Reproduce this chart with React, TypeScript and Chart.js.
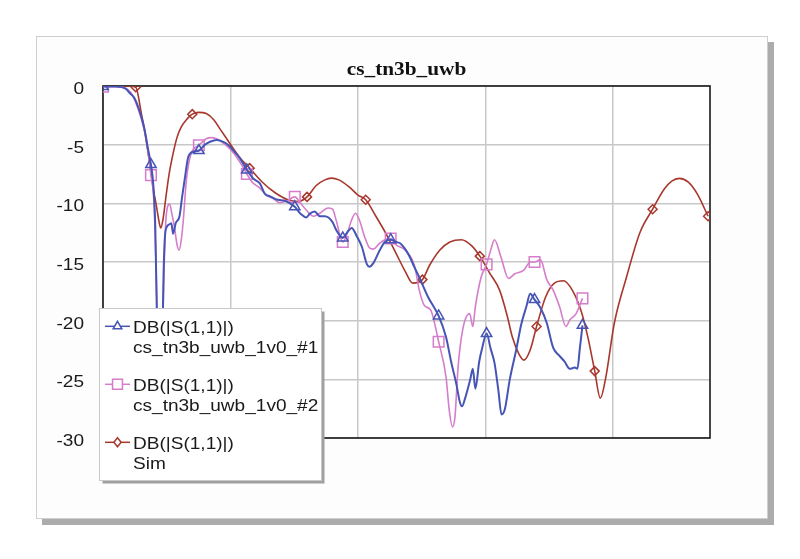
import React, { useEffect, useRef } from 'react';
import { Chart, registerables } from 'chart.js';

Chart.register(...registerables);

const chartTitle = 'cs_tn3b_uwb';
const legendTop = 'DB(|S(1,1)|)';
const seriesNames = ['cs_tn3b_uwb_1v0_#1', 'cs_tn3b_uwb_1v0_#2', 'Sim'];

// Measured #1
const m1Freq = [0, 0.1, 0.18, 0.21, 0.245, 0.275, 0.3, 0.327, 0.35, 0.376, 0.395, 0.41, 0.42, 0.43, 0.44, 0.455, 0.465, 0.475, 0.484, 0.5, 0.52, 0.536, 0.55, 0.57, 0.6, 0.62, 0.64, 0.67, 0.71, 0.752, 0.8, 0.84, 0.89, 0.93, 0.98, 1.03, 1.07, 1.128, 1.18, 1.23, 1.27, 1.31, 1.37, 1.43, 1.504, 1.55, 1.595, 1.62, 1.66, 1.7, 1.74, 1.8, 1.83, 1.88, 1.92, 1.95, 1.99, 2.03, 2.07, 2.09, 2.12, 2.17, 2.21, 2.256, 2.3, 2.33, 2.37, 2.405, 2.44, 2.48, 2.55, 2.632, 2.69, 2.73, 2.77, 2.8, 2.815, 2.84, 2.88, 2.9, 2.92, 2.95, 2.97, 3.008, 3.04, 3.07, 3.1, 3.125, 3.15, 3.19, 3.24, 3.28, 3.32, 3.35, 3.384, 3.43, 3.48, 3.53, 3.58, 3.62, 3.66, 3.7, 3.72, 3.74, 3.76];
const m1Db = [-0.05, -0.05, -0.25, -0.6, -1.0, -1.76, -2.6, -3.75, -5.2, -6.7, -8.5, -12, -18, -24, -29, -29, -22, -16, -13.1, -12.0, -11.8, -11.7, -12.6, -11.7, -11.1, -9.5, -8.0, -6.0, -5.6, -5.5, -5.0, -4.75, -4.6, -4.7, -5.0, -5.6, -6.1, -7.16, -7.9, -8.3, -9.2, -9.4, -9.7, -9.8, -10.3, -10.9, -11.2, -10.9, -10.7, -11.1, -11.1, -11.6, -12.3, -12.95, -12.4, -12.1, -12.8, -13.7, -15.2, -15.4, -15.1, -14.0, -13.3, -13.1, -13.3, -13.4, -13.9, -14.55, -15.4, -16.3, -18.0, -19.6, -21.4, -23.5, -25.35, -27.0, -27.3, -26.6, -25.0, -24.1, -25.8, -23.5, -22.5, -21.1, -22.4, -23.6, -25.9, -28.0, -27.6, -25.0, -22.5, -20.3, -18.8, -17.7, -18.2, -18.9, -20.2, -22.3, -23.0, -23.5, -24.1, -24.0, -24.1, -22.3, -20.4];
const m1Marks = [0, 0.376, 0.752, 1.128, 1.504, 1.88, 2.256, 2.632, 3.008, 3.384, 3.76];

// Measured #2
const m2Freq = [0, 0.1, 0.18, 0.22, 0.26, 0.3, 0.34, 0.376, 0.4, 0.415, 0.43, 0.445, 0.46, 0.47, 0.485, 0.497, 0.523, 0.54, 0.56, 0.58, 0.597, 0.615, 0.63, 0.654, 0.69, 0.752, 0.81, 0.85, 0.89, 0.93, 0.98, 1.03, 1.08, 1.128, 1.17, 1.23, 1.28, 1.335, 1.385, 1.44, 1.504, 1.55, 1.58, 1.65, 1.7, 1.765, 1.8, 1.83, 1.88, 1.92, 1.95, 1.98, 2.01, 2.05, 2.09, 2.12, 2.17, 2.21, 2.256, 2.3, 2.37, 2.445, 2.48, 2.52, 2.57, 2.632, 2.69, 2.715, 2.74, 2.76, 2.785, 2.82, 2.875, 2.9, 2.92, 2.965, 3.008, 3.04, 3.07, 3.12, 3.18, 3.23, 3.3, 3.35, 3.384, 3.43, 3.48, 3.53, 3.58, 3.63, 3.66, 3.71, 3.76];
const m2Db = [-0.05, -0.05, -0.2, -0.6, -1.5, -2.8, -4.6, -7.6, -10, -15, -22, -28, -28, -20, -13.5, -10.9, -10.06, -10.9, -12.0, -13.5, -14.0, -13.0, -11.4, -8.0, -5.8, -5.05, -4.5, -4.4, -4.5, -4.75, -5.2, -5.8, -6.6, -7.5, -8.2, -8.7, -9.3, -9.6, -9.95, -9.8, -9.45, -10.0, -10.4, -11.1, -10.85, -10.4, -10.5, -11.5, -13.3, -12.4, -11.4, -10.85, -11.4, -12.8, -13.8, -13.9, -13.4, -13.1, -13.0, -13.55, -14.0, -15.4, -17.4, -18.7, -19.1, -21.8, -24.8, -27.6, -29.05, -28.2, -23.9, -20.8, -19.4, -20.5, -18.8, -16.3, -15.2, -14.0, -13.1, -14.55, -16.4, -16.0, -15.7, -15.0, -15.0, -14.8, -16.5, -17.4, -18.8, -20.5, -19.95, -19.4, -18.1];
const m2Marks = [0, 0.376, 0.752, 1.128, 1.504, 1.88, 2.256, 2.632, 3.008, 3.384, 3.76];

// Simulation
const simFreq = [0, 0.12, 0.2, 0.257, 0.3, 0.337, 0.366, 0.395, 0.42, 0.44, 0.453, 0.47, 0.497, 0.52, 0.55, 0.58, 0.615, 0.66, 0.7, 0.75, 0.81, 0.87, 0.92, 0.97, 1.02, 1.08, 1.15, 1.25, 1.35, 1.45, 1.53, 1.6, 1.67, 1.74, 1.79, 1.85, 1.93, 2.0, 2.06, 2.14, 2.22, 2.3, 2.37, 2.43, 2.505, 2.56, 2.64, 2.72, 2.81, 2.89, 2.955, 3.03, 3.11, 3.17, 3.21, 3.26, 3.3, 3.35, 3.4, 3.47, 3.54, 3.61, 3.68, 3.75, 3.8, 3.856, 3.9, 3.94, 4.01, 4.105, 4.21, 4.31, 4.4, 4.46, 4.52, 4.59, 4.66, 4.745];
const simDb = [0, 0, 0, -0.1, -2.3, -4.5, -6.6, -8.8, -10.3, -11.6, -12.1, -11.4, -9.15, -7.4, -5.74, -4.4, -3.47, -2.8, -2.4, -2.25, -2.35, -2.9, -3.7, -4.5, -5.3, -6.2, -7.0, -8.2, -9.1, -9.7, -9.85, -9.45, -8.5, -8.0, -7.85, -8.0, -8.6, -9.3, -9.7, -11.1, -12.6, -14.3, -15.8, -16.8, -16.5, -15.3, -14.0, -13.3, -13.1, -13.6, -14.5, -15.9, -17.4, -19.6, -21.4, -22.8, -23.36, -22.5, -20.5, -18.0, -16.8, -16.6, -17.4, -19.2, -21.3, -24.3, -26.6, -25.0, -20.2, -16.3, -12.5, -10.5, -8.8, -8.1, -7.87, -8.2, -9.2, -11.1];
const simMarks = [0.257, 0.7, 1.15, 1.6, 2.06, 2.505, 2.955, 3.4, 3.856, 4.31, 4.745];

const colors = ['#4655b5', '#d57dca', '#a8372d'];
const styles = ['triangle', 'rect', 'rectRot'];
const SX = 1.12;

function drawStretched(ctx: CanvasRenderingContext2D, text: string, x: number, y: number, align: string, font: string, color: string) {
  ctx.save();
  ctx.font = font;
  ctx.fillStyle = color;
  ctx.textBaseline = 'alphabetic';
  ctx.textAlign = 'left';
  const w = ctx.measureText(text).width * SX;
  const x0 = align === 'right' ? x - w : align === 'center' ? x - w / 2 : x;
  ctx.translate(x0, y);
  ctx.scale(SX, 1);
  ctx.fillText(text, 0, 0);
  ctx.restore();
}

function drawMarker(ctx: CanvasRenderingContext2D, style: string, x: number, y: number, r: number) {
  ctx.beginPath();
  if (style === 'triangle') {
    ctx.moveTo(x, y - r);
    ctx.lineTo(x + r * 0.866, y + r * 0.5);
    ctx.lineTo(x - r * 0.866, y + r * 0.5);
    ctx.closePath();
  } else if (style === 'rect') {
    const s = r * 0.707;
    ctx.rect(x - s, y - s, 2 * s, 2 * s);
  } else {
    ctx.moveTo(x, y - r);
    ctx.lineTo(x + r * 0.8, y);
    ctx.lineTo(x, y + r);
    ctx.lineTo(x - r * 0.8, y);
    ctx.closePath();
  }
  ctx.fillStyle = '#ffffff';
  ctx.fill();
  ctx.stroke();
}

const decorPlugin = {
  id: 'decor',
  beforeDraw(chart: any) {
    const ctx = chart.ctx;
    ctx.save();
    ctx.fillStyle = '#ffffff';
    ctx.fillRect(0, 0, chart.width, chart.height);
    ctx.fillStyle = '#acacac';
    ctx.fillRect(42, 42, 732, 483);
    ctx.fillStyle = '#fdfdfd';
    ctx.fillRect(36, 36, 732, 483);
    ctx.strokeStyle = '#cfcfcf';
    ctx.lineWidth = 1;
    ctx.strokeRect(36.5, 36.5, 731, 482);
    const a = chart.chartArea;
    ctx.fillStyle = '#ffffff';
    ctx.fillRect(a.left, a.top, a.right - a.left, a.bottom - a.top);
    ctx.restore();
  },
  beforeDatasetsDraw(chart: any) {
    const ctx = chart.ctx;
    const a = chart.chartArea;
    ctx.save();
    ctx.strokeStyle = '#1a1a1a';
    ctx.lineWidth = 1.6;
    ctx.strokeRect(a.left, a.top, a.right - a.left, a.bottom - a.top);
    ctx.restore();
  },
  afterDraw(chart: any) {
    const ctx = chart.ctx;
    const a = chart.chartArea;
    const ys = chart.scales.y;
    ys.ticks.forEach((t: any) => {
      const py = ys.getPixelForValue(t.value);
      drawStretched(ctx, String(t.label), a.left - 19, py + 8, 'right', '17px "Liberation Sans", Arial, sans-serif', '#1a1a1a');
    });
    drawStretched(ctx, chartTitle, (a.left + a.right) / 2, 75, 'center', 'bold 19px "Liberation Serif", "Times New Roman", serif', '#111111');
    ctx.save();
    ctx.fillStyle = '#a0a0a0';
    ctx.fillRect(102.5, 311.5, 222, 172);
    ctx.fillStyle = '#ffffff';
    ctx.fillRect(99.5, 308.5, 222, 172);
    ctx.strokeStyle = '#c8c8c8';
    ctx.lineWidth = 1;
    ctx.strokeRect(99.5, 308.5, 222, 172);
    ctx.restore();
    for (let i = 0; i < 3; i++) {
      const base = 333.3 + i * 58;
      const ly = base - 7;
      ctx.save();
      ctx.strokeStyle = colors[i];
      ctx.lineWidth = 1.5;
      ctx.beginPath();
      ctx.moveTo(105, ly);
      ctx.lineTo(130, ly);
      ctx.stroke();
      drawMarker(ctx, styles[i], 117.5, ly, i === 0 ? 5 : i === 1 ? 7 : 4.5);
      ctx.restore();
      drawStretched(ctx, legendTop, 133, base, 'left', '17px "Liberation Sans", Arial, sans-serif', '#1a1a1a');
      drawStretched(ctx, seriesNames[i], 133, base + 20, 'left', '17px "Liberation Sans", Arial, sans-serif', '#1a1a1a');
    }
  },
};

function makeSet(freq: number[], db: number[], marks: number[], i: number, r: number) {
  return {
    label: seriesNames[i],
    data: freq.map((f, k) => ({ x: f, y: db[k] })),
    borderColor: colors[i],
    borderWidth: i === 0 ? 2 : 1.6,
    pointStyle: styles[i],
    pointBorderColor: colors[i],
    pointBackgroundColor: 'rgba(255,255,255,0)',
    pointBorderWidth: 1.5,
    pointRadius: (c: any) => (c.raw && marks.includes(c.raw.x) ? r : 0),
    pointHoverRadius: 0,
    cubicInterpolationMode: 'monotone',
    fill: false,
  };
}

export default function App() {
  const ref = useRef<HTMLCanvasElement>(null);
  useEffect(() => {
    if (!ref.current) return;
    const chart = new Chart(ref.current, {
      type: 'line',
      data: {
        datasets: [
          makeSet(m1Freq, m1Db, m1Marks, 0, 6),
          makeSet(m2Freq, m2Db, m2Marks, 1, 7.5),
          makeSet(simFreq, simDb, simMarks, 2, 4.5),
        ] as any,
      },
      options: {
        responsive: false,
        animation: false,
        events: [],
        layout: { padding: { left: 103, right: 90, top: 86, bottom: 121 } },
        plugins: { legend: { display: false }, title: { display: false }, tooltip: { enabled: false } },
        scales: {
          x: {
            type: 'linear',
            min: 0,
            max: 4.76,
            ticks: { display: false, stepSize: 1, includeBounds: false },
            grid: { color: '#c8c8c8', lineWidth: 1.5, drawTicks: false },
            border: { display: false },
            afterFit: (s: any) => { s.height = 0; },
          },
          y: {
            type: 'linear',
            min: -30,
            max: 0,
            ticks: { display: false, stepSize: 5 },
            grid: { color: '#c8c8c8', lineWidth: 1.5, drawTicks: false },
            border: { display: false },
            afterFit: (s: any) => { s.width = 0; },
          },
        },
      } as any,
      plugins: [decorPlugin],
    });
    return () => chart.destroy();
  }, []);
  return (
    <div style={{ position: 'absolute', left: 0, top: 0, width: 800, height: 559 }}>
      <canvas ref={ref} width={800} height={559} style={{ display: 'block', width: 800, height: 559 }} />
    </div>
  );
}
